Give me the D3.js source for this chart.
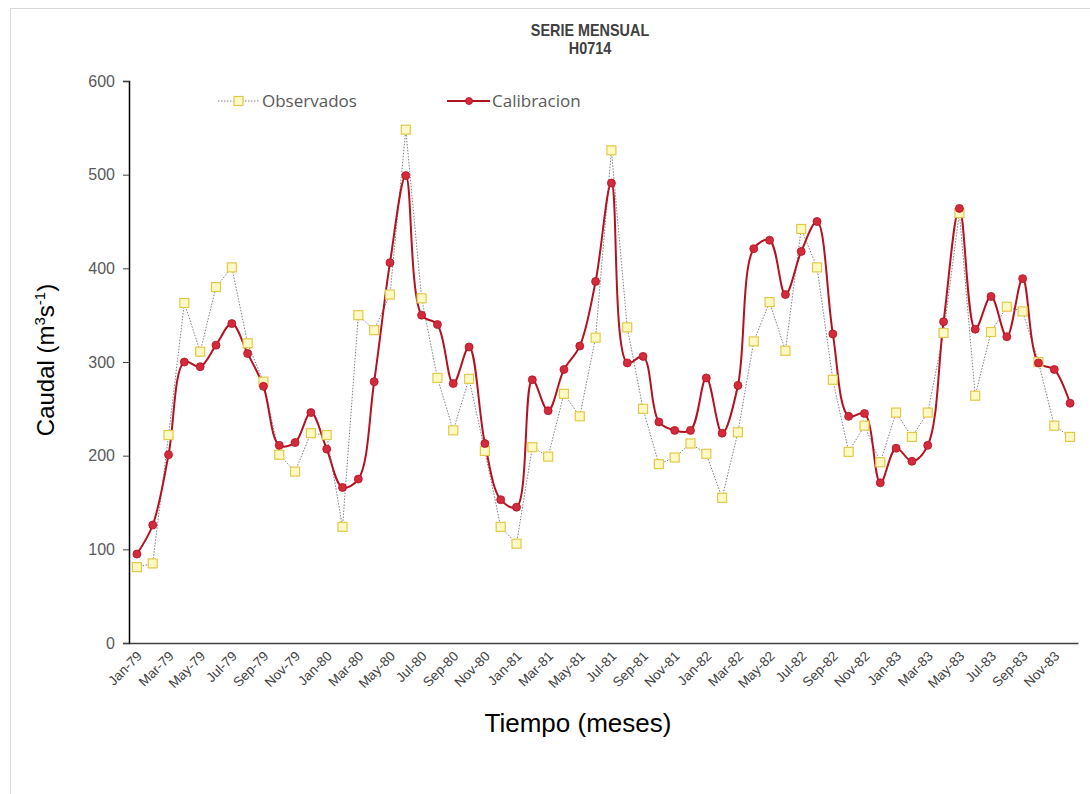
<!DOCTYPE html>
<html>
<head>
<meta charset="utf-8">
<script src="https://cdn.jsdelivr.net/npm/d3@7"></script>
<style>
  body { margin: 0; background: #fff; }
  svg { display: block; }
  .tick-y text { font-family: "Liberation Sans", Arial, sans-serif; font-size: 16px; fill: #595959; }
  .tick-x text { font-family: "Liberation Sans", Arial, sans-serif; font-size: 13.5px; fill: #404040; }
</style>
</head>
<body>
<div id="chart"></div>
<script>
// months (categories)
var months = ["Jan-79","Feb-79","Mar-79","Apr-79","May-79","Jun-79","Jul-79","Aug-79","Sep-79","Oct-79","Nov-79","Dec-79",
              "Jan-80","Feb-80","Mar-80","Apr-80","May-80","Jun-80","Jul-80","Aug-80","Sep-80","Oct-80","Nov-80","Dec-80",
              "Jan-81","Feb-81","Mar-81","Apr-81","May-81","Jun-81","Jul-81","Aug-81","Sep-81","Oct-81","Nov-81","Dec-81",
              "Jan-82","Feb-82","Mar-82","Apr-82","May-82","Jun-82","Jul-82","Aug-82","Sep-82","Oct-82","Nov-82","Dec-82",
              "Jan-83","Feb-83","Mar-83","Apr-83","May-83","Jun-83","Jul-83","Aug-83","Sep-83","Oct-83","Nov-83","Dec-83"];

// caudal observado
var observados = [81,85,222,363,311,380,401,320,279,201,183,224,
                  222,124,350,334,372,548,368,283,227,282,205,124,
                  106,209,199,266,242,326,526,337,250,191,198,213,
                  202,155,225,322,364,312,442,401,281,204,232,193,
                  246,220,246,331,459,264,332,359,354,300,232,220];

// caudal calibrado
var calibracion = [95,126,201,300,295,318,341,309,274,211,214,246,
                   207,166,175,279,406,499,350,340,277,316,213,153,
                   145,281,248,292,317,386,491,299,306,236,227,227,
                   283,224,275,421,430,372,418,450,330,242,245,171,
                   208,194,211,343,464,335,370,327,389,299,292,256];

var yTicks = [0, 100, 200, 300, 400, 500, 600];

var W = 1090, H = 794;
var plot = {left: 129, right: 1078, top: 81, bottom: 643};

var svg = d3.select("#chart").append("svg")
    .attr("width", W)
    .attr("height", H);

// chart frame
svg.append("rect")
    .attr("x", 10.5).attr("y", 8.5)
    .attr("width", W).attr("height", H)
    .attr("fill", "none")
    .attr("stroke", "#d9d9d9");

// scales
var xScale = d3.scaleBand().domain(months).range([plot.left, plot.right]);
var xMid = function(m) { return xScale(m) + xScale.bandwidth() / 2; };
var yScale = d3.scaleLinear().domain([0, 600]).range([plot.bottom, plot.top]);

// y axis
var yAxis = d3.axisLeft(yScale).tickValues(yTicks).tickSize(6).tickPadding(8);
var gy = svg.append("g")
    .attr("class", "tick-y")
    .attr("transform", "translate(" + plot.left + ",0)")
    .call(yAxis);
gy.select(".domain").attr("stroke", "#000").attr("stroke-width", 1.5);
gy.selectAll(".tick line").attr("stroke", "#404040");

// x axis
var xAxis = d3.axisBottom(xScale)
    .tickValues(months.filter(function(d, i) { return i % 2 === 0; }))
    .tickSize(0).tickPadding(0);
var gx = svg.append("g")
    .attr("class", "tick-x")
    .attr("transform", "translate(0," + plot.bottom + ")")
    .call(xAxis);
gx.select(".domain").attr("stroke", "#404040").attr("stroke-width", 1.5);
gx.selectAll(".tick text")
    .attr("text-anchor", "end")
    .attr("dy", 0)
    .attr("transform", "translate(6,14) rotate(-45)");

// series: observados (straight dotted line + squares)
var obsLine = d3.line()
    .x(function(d, i) { return xMid(months[i]); })
    .y(function(d) { return yScale(d); });

svg.append("path")
    .datum(observados)
    .attr("d", obsLine)
    .attr("fill", "none")
    .attr("stroke", "#7f7f7f")
    .attr("stroke-width", 1)
    .attr("stroke-dasharray", "1.5,1.5");

// series: calibracion (smoothed line)
var calLine = d3.line()
    .x(function(d, i) { return xMid(months[i]); })
    .y(function(d) { return yScale(d); })
    .curve(d3.curveCatmullRom.alpha(0.5));

svg.append("path")
    .datum(calibracion)
    .attr("d", calLine)
    .attr("fill", "none")
    .attr("stroke", "#b3121f")
    .attr("stroke-width", 2);

svg.selectAll(".obs")
    .data(observados)
  .enter().append("rect")
    .attr("class", "obs")
    .attr("x", function(d, i) { return xMid(months[i]) - 4.5; })
    .attr("y", function(d) { return yScale(d) - 4.5; })
    .attr("width", 9).attr("height", 9)
    .attr("fill", "#fff9c4")
    .attr("stroke", "#e3c84a")
    .attr("stroke-width", 1.2);

svg.selectAll(".cal")
    .data(calibracion)
  .enter().append("circle")
    .attr("class", "cal")
    .attr("cx", function(d, i) { return xMid(months[i]); })
    .attr("cy", function(d) { return yScale(d); })
    .attr("r", 4)
    .attr("fill", "#d42a3c")
    .attr("stroke", "#b3121f")
    .attr("stroke-width", 0.8);

// title
var title = svg.append("text")
    .attr("text-anchor", "middle")
    .attr("transform", "translate(590,0) scale(0.9,1)")
    .style("font-family", "'Liberation Sans', Arial, sans-serif")
    .style("font-weight", "bold")
    .style("font-size", "16px")
    .style("fill", "#404040");
title.append("tspan").attr("x", 0).attr("y", 36).text("SERIE MENSUAL");
title.append("tspan").attr("x", 0).attr("y", 54).text("H0714");

// axis titles
svg.append("text")
    .attr("x", 578).attr("y", 732)
    .attr("text-anchor", "middle")
    .style("font-family", "'Liberation Sans', Arial, sans-serif")
    .style("font-size", "26px")
    .style("fill", "#000")
    .text("Tiempo (meses)");

var yl = svg.append("text")
    .attr("transform", "translate(54,360) rotate(-90)")
    .attr("text-anchor", "middle")
    .style("font-family", "'Liberation Sans', Arial, sans-serif")
    .style("font-size", "24px")
    .style("fill", "#000");
yl.append("tspan").text("Caudal (m");
yl.append("tspan").attr("dy", -9).style("font-size", "15px").text("3");
yl.append("tspan").attr("dy", 9).text("s");
yl.append("tspan").attr("dy", -9).style("font-size", "15px").text("-1");
yl.append("tspan").attr("dy", 9).text(")");

// legend
var legend = svg.append("g").style("font-family", "'Open Sans', 'Liberation Sans', sans-serif")
    .style("font-size", "17px").style("fill", "#595959");

legend.append("line")
    .attr("x1", 218).attr("x2", 259).attr("y1", 101).attr("y2", 101)
    .attr("stroke", "#7f7f7f").attr("stroke-dasharray", "1.5,1.5");
legend.append("rect")
    .attr("x", 234).attr("y", 96.5).attr("width", 9).attr("height", 9)
    .attr("fill", "#fff9c4").attr("stroke", "#e3c84a").attr("stroke-width", 1.2);
legend.append("text").attr("x", 262).attr("y", 107).text("Observados");

legend.append("line")
    .attr("x1", 447).attr("x2", 490).attr("y1", 101).attr("y2", 101)
    .attr("stroke", "#b3121f").attr("stroke-width", 2);
legend.append("circle")
    .attr("cx", 469).attr("cy", 101).attr("r", 3.5)
    .attr("fill", "#d42a3c").attr("stroke", "#b3121f").attr("stroke-width", 0.8);
legend.append("text").attr("x", 492).attr("y", 107).text("Calibracion");
</script>
</body>
</html>
